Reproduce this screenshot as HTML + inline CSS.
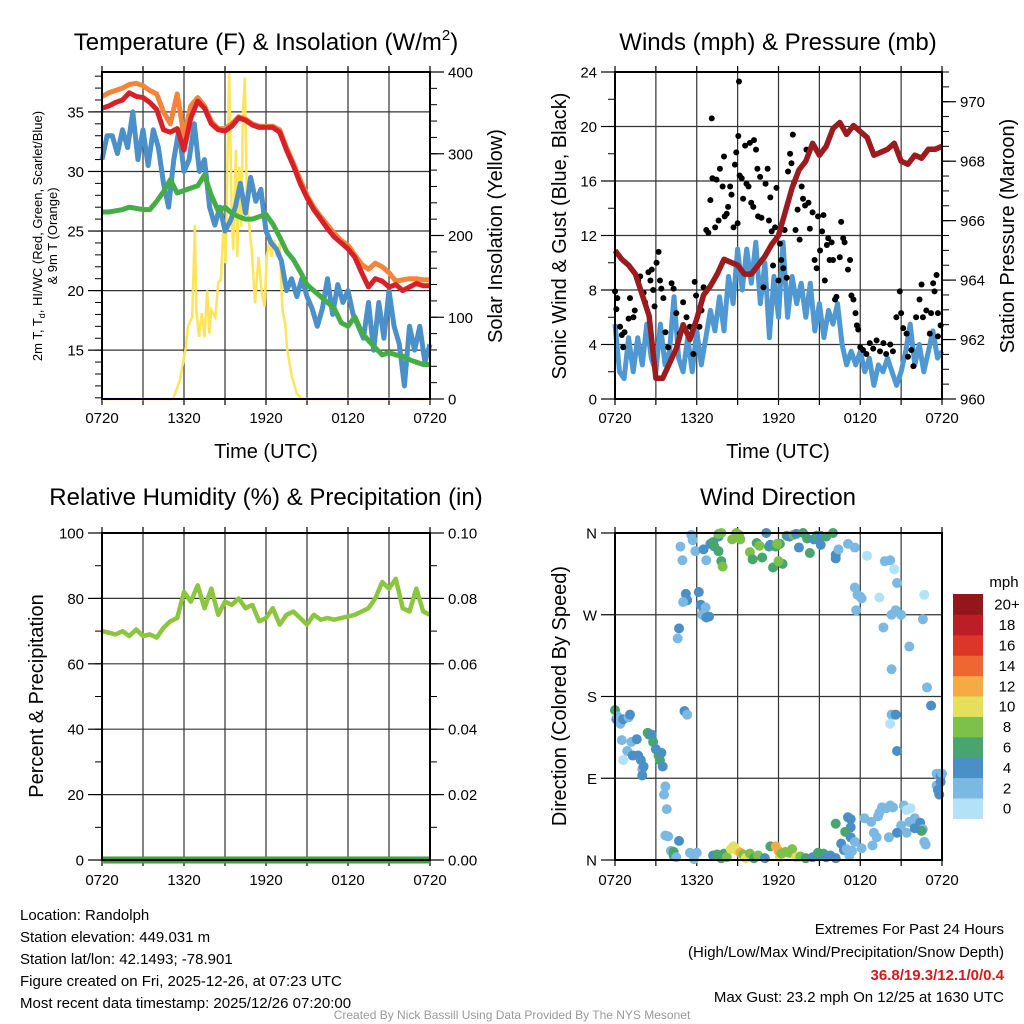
<!DOCTYPE html>
<html><head><meta charset="utf-8"><style>
body{margin:0;background:#fff}
svg{display:block;font-family:"Liberation Sans",Arial,sans-serif}
</style></head><body>
<svg id="s" width="1024" height="1024" viewBox="0 0 1024 1024" xmlns="http://www.w3.org/2000/svg">
<g id="txt">
<text x="266" y="50" font-size="24" text-anchor="middle">Temperature (F) &amp; Insolation (W/m<tspan font-size="15" dy="-10">2</tspan><tspan dy="10">)</tspan></text>
<text x="778" y="50" font-size="24" text-anchor="middle">Winds (mph) &amp; Pressure (mb)</text>
<text x="266" y="505" font-size="24" text-anchor="middle">Relative Humidity (%) &amp; Precipitation (in)</text>
<text x="778" y="505" font-size="24" text-anchor="middle">Wind Direction</text>
<text x="266" y="458" font-size="20" text-anchor="middle">Time (UTC)</text>
<text x="778" y="458" font-size="20" text-anchor="middle">Time (UTC)</text>
<text transform="translate(42,236) rotate(-90)" font-size="13" text-anchor="middle">2m T, T<tspan font-size="9" dy="3">d</tspan><tspan dy="-3">, HI/WC (Red, Green, Scarlet/Blue)</tspan></text>
<text transform="translate(57,236) rotate(-90)" font-size="13" text-anchor="middle">&amp; 9m T (Orange)</text>
<text transform="translate(502,236) rotate(-90)" font-size="20" text-anchor="middle">Solar Insolation (Yellow)</text>
<text transform="translate(566,236) rotate(-90)" font-size="20" text-anchor="middle">Sonic Wind &amp; Gust (Blue, Black)</text>
<text transform="translate(1014,236) rotate(-90)" font-size="20" text-anchor="middle">Station Pressure (Maroon)</text>
<text transform="translate(43,696) rotate(-90)" font-size="20" text-anchor="middle">Percent &amp; Precipitation</text>
<text transform="translate(566,696) rotate(-90)" font-size="20" text-anchor="middle">Direction (Colored By Speed)</text>
<text x="1004" y="587" font-size="15" text-anchor="middle">mph</text>
<g font-size="15">
<text x="20" y="920">Location: Randolph</text>
<text x="20" y="942">Station elevation: 449.031 m</text>
<text x="20" y="964">Station lat/lon: 42.1493; -78.901</text>
<text x="20" y="986">Figure created on Fri, 2025-12-26, at 07:23 UTC</text>
<text x="20" y="1008">Most recent data timestamp: 2025/12/26 07:20:00</text>
</g>
<g font-size="15" text-anchor="end">
<text x="1004" y="934">Extremes For Past 24 Hours</text>
<text x="1004" y="957">(High/Low/Max Wind/Precipitation/Snow Depth)</text>
<text x="1004" y="980" fill="#d7191c" font-weight="bold">36.8/19.3/12.1/0/0.4</text>
<text x="1004" y="1002">Max Gust: 23.2 mph On 12/25 at 1630 UTC</text>
</g>
<text x="512" y="1019" font-size="12" fill="#999" text-anchor="middle">Created By Nick Bassill Using Data Provided By The NYS Mesonet</text>
</g>
</svg>
<script>
const xTickLabels=["0720","1320","1920","0120","0720"];
const redT=[35.3,35.5,35.8,36.0,36.6,36.3,36.2,35.8,35.2,33.5,33.3,33.6,31.8,34.5,35.9,35.3,34.0,33.5,33.4,33.8,34.5,34.3,33.9,33.7,33.7,33.7,33.3,31.8,30.5,29.0,27.8,26.8,26.0,25.2,24.5,24.0,23.5,22.8,21.5,20.3,21.0,20.8,20.3,20.5,20.0,20.3,20.6,20.4,20.4];
const orangeT=[36.3,36.6,36.8,37.0,37.3,37.4,37.2,36.8,36.5,35.0,34.0,36.5,33.0,35.5,36.2,35.5,34.2,33.6,33.6,34.0,34.6,34.4,34.0,33.8,33.8,33.8,33.5,32.0,30.7,29.3,28.0,27.0,26.2,25.5,24.8,24.2,23.8,23.0,22.2,21.8,22.3,22.0,21.5,20.8,20.9,21.0,21.0,20.9,20.9];
const greenTd=[26.6,26.6,26.7,26.8,27.0,26.9,26.8,26.8,27.5,28.3,29.3,28.2,28.4,28.6,28.8,29.7,28.0,26.7,27.0,26.5,26.2,26.0,26.0,26.2,26.4,25.6,24.5,23.3,22.6,21.6,20.5,20.0,19.5,19.0,18.5,17.3,17.0,17.8,16.5,15.8,15.2,14.6,14.8,14.6,14.5,14.2,14.0,13.8,13.8];
const blueWC=[31,33,33,31.5,33.5,32,35,31,33.5,30.5,33.5,32,29,27,31,33.5,30,31,34,30,31,27,25.5,27,25,25.8,27,29,26.5,29.5,27.5,28.5,25,24,23.5,22.5,20,21,19.5,21,19.5,18.5,17,18.5,21,18,20.5,19,20,18,17,16,19,15,19,16,20,17,15.5,12,17,15,17,14,15.5];
const solarHours=[0,5.2,5.7,6.1,6.3,6.6,6.8,6.9,7.1,7.3,7.5,7.7,7.85,8.0,8.3,8.5,8.7,8.9,9.05,9.2,9.3,9.5,9.6,9.8,9.9,10.05,10.2,10.3,10.45,10.6,10.8,10.95,11.2,11.45,11.7,11.9,12.05,12.25,12.4,12.6,12.8,13,13.2,13.4,13.55,13.9,14.25,14.6,24];
const solarW=[0,0,23,60,89,100,213,109,76,105,76,133,80,109,100,142,146,215,166,305,400,223,182,305,174,284,211,346,393,244,207,182,117,174,129,113,174,195,174,195,174,190,109,93,60,27,7,0,0];
const pressure=[965.0,964.7,964.5,964.2,963.5,962.8,960.7,960.7,961.2,961.7,962.5,962.0,962.7,963.5,963.8,964.2,964.7,964.6,964.5,964.2,964.2,964.5,964.8,965.2,965.5,966.3,967.1,967.7,968.0,968.6,968.2,968.5,969.1,969.3,968.9,969.2,969.0,968.8,968.2,968.3,968.4,968.6,968.0,967.9,968.2,968.1,968.4,968.4,968.5];
const sonicWind=[5.5,2,1.5,4.5,2,4.5,2.5,5.5,3,2,5.5,2.5,3.5,7.5,3,2,4.5,2,5,2.5,4.5,6.5,5,7.5,5,9,7,11,8,11,8.5,11.5,7,10,4.5,9,6,11.5,6,9,7,8.5,6,8.5,5,7,4.5,6.5,5.5,7,4,2.5,3.5,2.5,3.5,2,3,1,2.5,2,3,2,1,2,3.5,5.5,2.5,4,2,3.5,5,3,3.5];
const gustObs=[[0,7.9],[0.17,7.4],[0.1,6.6],[0.37,5.3],[0.5,4.7],[0.6,3.8],[0.7,4.9],[1,5.9],[1.1,7.4],[1.35,6],[1.45,6.5],[1.7,8.7],[1.85,9],[2.1,7.8],[2.2,7.1],[2.45,9.3],[2.6,8.7],[2.7,9.5],[2.8,8],[2.9,6.8],[3.05,10],[3.2,10.8],[3.3,8.7],[3.4,8.1],[3.55,7.4],[3.7,4.9],[3.9,3.8],[4.15,8.5],[4.3,8.1],[4.5,6.3],[4.75,4.8],[5,7.1],[5.25,6],[5.5,5.3],[5.75,3.3],[5.85,8.6],[5.95,7.6],[6.2,5.3],[6.35,6.5],[6.5,8.2],[6.7,12.4],[6.85,12.2],[7,14.6],[7.1,20.6],[7.15,16.2],[7.35,12.6],[7.45,16.1],[7.6,13.1],[7.7,16.9],[7.9,15.6],[8,17.8],[8.05,13.4],[8.2,13.6],[8.3,14.1],[8.45,15.6],[8.55,15],[8.7,12.6],[8.8,17.2],[8.9,18.1],[9,12.9],[9.05,19.3],[9.1,23.3],[9.15,16.4],[9.3,16.2],[9.4,14.7],[9.55,18.6],[9.65,15.8],[9.8,15.6],[9.9,18.8],[10,14.4],[10.15,14.1],[10.2,19],[10.35,18.3],[10.45,16.9],[10.5,13.4],[10.65,16.3],[10.75,13.3],[10.9,8.2],[11.05,15.8],[11.2,16.9],[11.3,13.1],[11.4,14.8],[11.5,12.3],[11.6,9.8],[11.75,12.6],[11.85,15.5],[12,8.7],[12.1,11.4],[12.2,10.2],[12.35,9.6],[12.45,12.4],[12.6,8.9],[12.7,16.7],[12.85,18],[12.95,17.3],[13.05,19.4],[13.15,15.9],[13.25,12.4],[13.4,13.9],[13.55,11.7],[13.7,15.6],[13.8,14.7],[13.95,14.2],[14.05,18.3],[14.2,14.4],[14.3,12.5],[14.5,13.7],[14.65,10.2],[14.8,9.6],[14.9,13.4],[15.05,10.9],[15.2,12.3],[15.3,13.5],[15.4,8.7],[15.55,11.3],[15.65,11.8],[15.75,10.2],[15.9,11.5],[16,10.2],[16.15,7.3],[16.25,7.5],[16.5,10.4],[16.6,13],[16.75,11.8],[16.85,11.5],[17.1,9.5],[17.25,10.2],[17.35,7.6],[17.5,7.3],[17.65,6.3],[17.75,5.4],[17.85,5.1],[18,3.8],[18.2,3.6],[18.45,3.3],[18.7,4.1],[18.95,3.7],[19.2,4.3],[19.45,3.5],[19.7,4.1],[19.9,3.3],[20.2,4],[20.4,3.5],[20.65,6],[20.9,7.9],[21,6.3],[21.15,5.2],[21.4,4.8],[21.5,3.1],[21.75,3.6],[21.9,2.4],[22.1,6],[22.35,7.3],[22.5,8.4],[22.6,6],[22.85,6.5],[23.1,4.8],[23.2,6.3],[23.35,8.5],[23.45,7.9],[23.6,9.1],[23.7,6.3],[23.9,5.4],[23.7,4.6]];
const rhPct=[70,69.5,69,70,68.5,70.5,68.5,69,68,71,73,74,82,79,84,77,83,75,79,78,80,77,78,73,74,77,72,75,76,74,72,75,73.5,74,73.5,74,74.5,75,76,77,80,85,83,86,77,76,83,76,75];
const precipIn=[0,0];
const dirObs=[[0,165,6],[0.1,155,4],[0.2,158,2],[0.4,150,2],[0.6,155,4],[1,157,3],[1.1,160,4],[1.2,130,2],[0.9,120,2],[1.3,115,4],[0.5,132,2],[0.6,110,1],[1.6,133,4],[1.7,115,4],[1.9,110,4],[2.0,100,2],[2.1,103,4],[2,93,4],[2.4,140,6],[2.5,138,6],[2.7,138,4],[2.8,130,6],[3.0,122,4],[3.2,115,6],[3.3,110,6],[3.4,118,4],[3.5,103,4],[3.7,81,2],[3.6,72,2],[3.8,56,2],[3.7,27,2],[3.9,26,2],[4.1,10,2],[4.3,9,6],[4.3,5,6],[4.7,21,4],[4.5,3,2],[5.5,8,2],[5.8,1,2],[4.7,255,4],[4.6,244,2],[5.1,164,4],[5.3,160,2],[4.95,330,2],[4.8,345,2],[5.7,352,2],[5.6,358,2],[5.9,340,2],[5.2,293,4],[5.3,286,4],[5.0,284,2],[6.15,295,4],[6.3,281,4],[6.5,275,4],[6.65,278,2],[6.4,270,2],[6.7,267,4],[6.9,268,4],[6.7,330,2],[6.5,342,4],[7.0,348,4],[7.2,350,6],[7.3,345,6],[7.6,356,4],[7.6,340,6],[7.8,329,6],[7.9,323,8],[7.8,360,8],[7.6,359,8],[8.6,353,8],[8.9,360,8],[9.1,358,8],[9.2,353,8],[9.9,339,8],[10.1,331,6],[10.4,349,6],[10.6,346,8],[11.1,360,4],[11.3,345,6],[10.8,333,6],[11.4,347,4],[11.8,345,6],[12.1,348,6],[12.6,357,6],[12.8,356,4],[12.3,326,6],[11.6,322,6],[11.9,348,8],[12.0,329,8],[13.1,358,8],[13.3,359,4],[13.8,360,6],[14.1,354,6],[14.3,338,6],[14.6,353,4],[13.5,344,4],[14.8,357,6],[15.1,357,4],[15.1,347,4],[15.5,356,6],[16.0,360,6],[16.2,336,4],[16.2,332,4],[16.4,342,2],[17.1,348,2],[17.6,344,2],[18.5,335,1],[19.8,329,2],[20.2,330,2],[20.5,320,1],[20.7,305,2],[22.7,292,1],[21.0,270,2],[22.6,265,2],[17.6,300,2],[17.8,292,2],[18.0,290,2],[18.1,288,2],[17.7,275,2],[19.4,289,1],[20.6,275,2],[20.3,270,2],[19.7,256,2],[21.6,235,2],[20.3,210,2],[20.3,160,2],[20.6,160,4],[20.2,150,1],[20.7,120,4],[23.2,170,4],[22.9,190,2],[23.6,95,2],[23.8,95,2],[23.9,92,4],[24,95,2],[23.6,82,2],[23.7,77,4],[23.8,72,4],[23.9,86,4],[17.1,47,4],[17.3,45,4],[17.3,36,4],[16.2,40,6],[16.9,31,6],[17.3,25,4],[17.6,20,2],[18.3,46,2],[18.8,42,2],[19.4,52,2],[19.9,57,2],[20.2,60,2],[20.4,58,2],[19.6,58,2],[19.3,48,2],[21,38,2],[21.6,42,2],[21.2,60,2],[21.7,57,1],[21.4,55,1],[22.0,46,2],[22.4,41,4],[22.6,34,2],[21.4,30,2],[22.7,20,2],[22.8,17,2],[22.5,32,6],[22.0,35,4],[20.1,25,2],[18.9,16,2],[17.4,10,2],[18.1,13,2],[19.2,25,2],[19.0,30,2],[20.7,30,4],[6.0,8,2],[7.2,5,4],[7.5,6,6],[7.8,2,6],[8.0,7,6],[8.2,3,8],[8.5,12,10],[8.7,15,10],[9.0,10,10],[9.2,8,12],[9.4,6,8],[9.6,2,10],[9.9,7,8],[10.2,2,6],[10.5,5,8],[11,2,4],[11.4,15,6],[11.8,15,12],[12.0,10,12],[12.1,3,10],[12.2,7,8],[12.5,9,8],[12.8,8,8],[13.0,12,8],[13.3,3,10],[13.6,4,8],[14.0,2,6],[14.5,3,4],[15.0,5,4],[15.3,7,6],[14.9,8,6],[15.5,3,4],[15.8,5,4],[16.2,2,4],[16.8,11,4],[16.6,18,4],[17.0,12,2],[17.2,5,2]];
const speedColors=["#b3e1f7","#7bb9e3","#4a8fc5","#48a56e","#7dc14b","#e5e05b","#f6aa46","#ee6631","#dc3628","#bc1d26","#93161a"];
const colorbarLabels=["0","2","4","6","8","10","12","14","16","18","20+"];
const dirLabels=["N","E","S","W","N"];
const solarTicks=[0,100,200,300,400];
const pressureTicks=[960,962,964,966,968,970];
const precipTicks=[0,0.02,0.04,0.06,0.08,0.1];

const NS="http://www.w3.org/2000/svg";
const svg=document.getElementById('s');
function el(tag,attrs,parent){const e=document.createElementNS(NS,tag);for(const k in attrs)e.setAttribute(k,attrs[k]);(parent||svg).appendChild(e);return e;}
function mk(x0,x1,y0,y1,lo,hi){return{x:h=>x0+h*(x1-x0)/24,y:v=>y1-(v-lo)*(y1-y0)/(hi-lo)};}
function series(xs,ys,sx,sy){return xs.map((h,i)=>(i?'L':'M')+sx(h).toFixed(1)+','+sy(ys[i]).toFixed(1)).join('');}
function hrs(n){const a=[];for(let i=0;i<n;i++)a.push(i*24/(n-1));return a;}
function minor(g,x,dir,lo,hi,step,sy,y0,y1){for(let v=lo;v<=hi+1e-9;v+=step){const y=sy(v);if(y<y0-0.5||y>y1+0.5)continue;el('line',{x1:x,x2:x+dir*7,y1:y,y2:y,stroke:'#000','stroke-width':1},g);}}

function frame(x0,x1,y0,y1,name,leftTicks,ly,leftFmt,xLabelY){
  const g=el('g',{});
  
  
  for(let i=0;i<=8;i++){const x=x0+i*(x1-x0)/8;const l=el('line',{x1:x,x2:x,y1:y0,y2:y1,stroke:'#333','stroke-width':1.2},g);
    
    
    el('line',{x1:x,x2:x,y1:y0-6,y2:y0,stroke:'#000','stroke-width':1.2},g);el('line',{x1:x,x2:x,y1:y1,y2:y1+6,stroke:'#000','stroke-width':1.2},g);}
  leftTicks.forEach(v=>{const y=ly(v);
    if(y>y0+1&&y<y1-1){const l=el('line',{x1:x0,x2:x1,y1:y,y2:y,stroke:'#333','stroke-width':1.2},g);
      
      }
    el('line',{x1:x0-14,x2:x0,y1:y,y2:y,stroke:'#000','stroke-width':1.2},g);
    const t=el('text',{x:x0-18,y:y+5.5,'font-size':15,'text-anchor':'end'},g);t.textContent=leftFmt(v);
    
    });
  xTickLabels.forEach((s,i)=>{const t=el('text',{x:x0+i*(x1-x0)/4,y:xLabelY,'font-size':15,'text-anchor':'middle'},g);t.textContent=s;
    
    });
  return g;
}
function rightAxis(g,x1,ticks,sy,fmt){ticks.forEach(v=>{const y=sy(v);el('line',{x1:x1,x2:x1+14,y1:y,y2:y,stroke:'#000','stroke-width':1.2},g);
  const t=el('text',{x:x1+18,y:y+5.5,'font-size':15},g);t.textContent=fmt(v);
  
  });}
function border(x0,x1,y0,y1){const r=el('rect',{x:x0,y:y0,width:x1-x0,height:y1-y0,fill:'none',stroke:'#000','stroke-width':2});
  
  }

// Panel 1
{const X0=102,X1=430,Y0=72,Y1=399;const s=mk(X0,X1,Y0,Y1,10.9,38.35);const sr=mk(X0,X1,Y0,Y1,0,400);
 const g=frame(X0,X1,Y0,Y1,'temperature-axes',[15,20,25,30,35],s.y,v=>v,423);
 rightAxis(g,X1,solarTicks,sr.y,v=>String(v));
 minor(g,X0,-1,11,38,1,s.y,Y0,Y1);minor(g,X1,1,0,400,20,sr.y,Y0,Y1);
 const p1=el('path',{d:series(solarHours,solarW,s.x,sr.y),fill:'none',stroke:'#fde459','stroke-width':2.5});
 
 
 const p2=el('path',{d:series(hrs(blueWC.length),blueWC,s.x,s.y),fill:'none',stroke:'#4b90c8','stroke-width':5,'stroke-linejoin':'round'});
 
 
 const p3=el('path',{d:series(hrs(greenTd.length),greenTd,s.x,s.y),fill:'none',stroke:'#45ad45','stroke-width':5,'stroke-linejoin':'round'});
 
 
 const p4=el('path',{d:series(hrs(orangeT.length),orangeT,s.x,s.y),fill:'none',stroke:'#f5843a','stroke-width':5,'stroke-linejoin':'round'});
 
 
 const p5=el('path',{d:series(hrs(redT.length),redT,s.x,s.y),fill:'none',stroke:'#d72027','stroke-width':5,'stroke-linejoin':'round'});
 
 
 border(X0,X1,Y0,Y1);}

// Panel 2
{const X0=615,X1=942,Y0=72,Y1=399;const s=mk(X0,X1,Y0,Y1,0,24);const sp=mk(X0,X1,Y0,Y1,960,971);
 const g=frame(X0,X1,Y0,Y1,'wind-axes',[0,4,8,12,16,20,24],s.y,v=>v,423);
 rightAxis(g,X1,pressureTicks,sp.y,v=>String(v));
 minor(g,X0,-1,0,24,2,s.y,Y0,Y1);minor(g,X1,1,960,971,0.5,sp.y,Y0,Y1);
 const p=el('path',{d:series(hrs(sonicWind.length),sonicWind,s.x,s.y),fill:'none',stroke:'#4f98d2','stroke-width':5,'stroke-linejoin':'round'});
 
 
 gustObs.forEach(d=>{const c=el('circle',{cx:s.x(d[0]),cy:s.y(d[1]),r:3,fill:'#000'});
   
   });
 const q=el('path',{d:series(hrs(pressure.length),pressure,s.x,sp.y),fill:'none',stroke:'#9b1b1e','stroke-width':5.5,'stroke-linejoin':'round'});
 
 
 border(X0,X1,Y0,Y1);}

// Panel 3
{const X0=102,X1=430,Y0=533,Y1=860;const s=mk(X0,X1,Y0,Y1,0,100);const sr=mk(X0,X1,Y0,Y1,0,0.1);
 const g=frame(X0,X1,Y0,Y1,'rh-axes',[0,20,40,60,80,100],s.y,v=>v,885);
 rightAxis(g,X1,precipTicks,sr.y,v=>v.toFixed(2));
 minor(g,X0,-1,0,100,10,s.y,Y0,Y1);minor(g,X1,1,0,0.1,0.01,sr.y,Y0,Y1);
 const p=el('path',{d:series(hrs(rhPct.length),rhPct,s.x,s.y),fill:'none',stroke:'#8cc63f','stroke-width':4.5,'stroke-linejoin':'round'});
 
 
 const q=el('path',{d:series(hrs(precipIn.length),precipIn,s.x,sr.y),fill:'none',stroke:'#3f9e3f','stroke-width':7});
 
 
 border(X0,X1,Y0,Y1);}

// Panel 4
{const X0=615,X1=942,Y0=533,Y1=860;const s=mk(X0,X1,Y0,Y1,0,360);
 frame(X0,X1,Y0,Y1,'winddir-axes',[0,90,180,270,360],s.y,v=>dirLabels[v/90],885);
 dirObs.forEach(d=>{const c=el('circle',{cx:s.x(d[0]),cy:s.y(d[1]),r:5,fill:speedColors[Math.min(10,Math.floor(d[2]/2))]});
   
   });
 border(X0,X1,Y0,Y1);
 const cb=el('g',{});
 
 
 const top=594,bh=20.4;
 speedColors.forEach((c,i)=>{const y=top+(10-i)*bh;const r=el('rect',{x:953,y:y,width:30,height:bh+0.5,fill:c},cb);
  
  
  const t=el('text',{x:1007,y:y+bh/2+5.5,'font-size':15,'text-anchor':'middle'},cb);t.textContent=colorbarLabels[i];
  
  });}
</script>
</body></html>
